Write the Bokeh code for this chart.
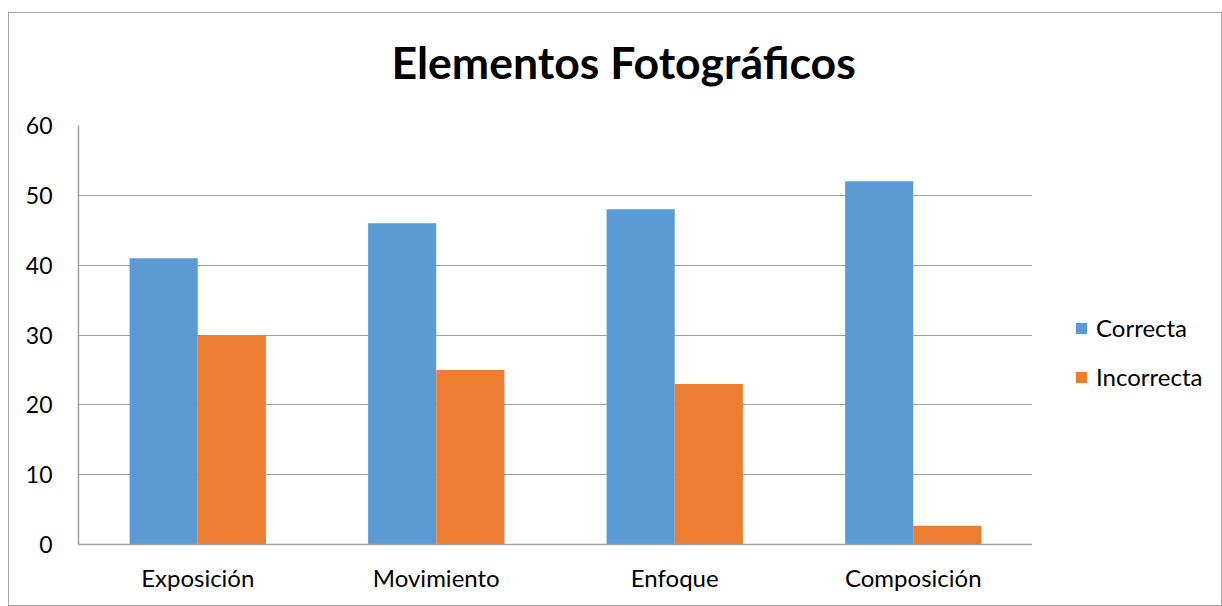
from bokeh.plotting import figure
from bokeh.layouts import row, column
from bokeh.models import ColumnDataSource, Range1d, FactorRange, FixedTicker, Legend, LegendItem, Label
from bokeh.transform import dodge
from bokeh.embed import file_html
from bokeh.resources import INLINE

title_text = "Elementos Fotográficos"
categories = ["Exposición", "Movimiento", "Enfoque", "Composición"]
correcta = [41, 46, 48, 52]
incorrecta = [30, 25, 23, 2.7]
series_names = ["Correcta", "Incorrecta"]
colors = ["#5B9BD5", "#ED7D31"]
y_ticks = [0, 10, 20, 30, 40, 50, 60]

source = ColumnDataSource(dict(cat=categories, correcta=correcta, incorrecta=incorrecta))

FONT = "Lato"
GRAY = "#a0a0a0"

# title strip
pt = figure(width=1023, height=90, x_range=Range1d(0, 1023), y_range=Range1d(0, 90), title=None,
            output_backend="svg", toolbar_location=None, x_axis_type=None, y_axis_type=None,
            min_border_left=0, min_border_right=0, min_border_top=0, min_border_bottom=0)
pt.outline_line_color = None
pt.grid.grid_line_color = None
pt.border_fill_color = "white"
pt.add_layout(Label(x=584.5, y=42, text=title_text, text_font=FONT, text_font_size="44.6px",
                    text_font_style="bold", text_color="#000000", text_align="center",
                    text_baseline="alphabetic"))

# main chart
p = figure(width=1023, height=502, x_range=FactorRange(*categories), y_range=Range1d(0, 60),
           output_backend="svg", toolbar_location=None,
           min_border_left=69, min_border_right=0, min_border_top=22, min_border_bottom=61)

w = 0.2857
r1 = p.vbar(x=dodge("cat", -w / 2, range=p.x_range), top="correcta", width=w, source=source,
            fill_color=colors[0], line_color=None)
r2 = p.vbar(x=dodge("cat", w / 2, range=p.x_range), top="incorrecta", width=w, source=source,
            fill_color=colors[1], line_color=None)

p.outline_line_color = None
p.background_fill_color = "white"
p.border_fill_color = "white"

p.xgrid.grid_line_color = None
p.ygrid.grid_line_color = GRAY
p.ygrid.ticker = FixedTicker(ticks=y_ticks)
p.yaxis.ticker = FixedTicker(ticks=y_ticks)

for ax in (p.xaxis[0], p.yaxis[0]):
    ax.axis_line_color = GRAY
    ax.axis_line_width = 1.5
    ax.major_tick_line_color = None
    ax.minor_tick_line_color = None
    ax.major_label_text_font = FONT
    ax.major_label_text_color = "#000000"
p.yaxis.major_label_text_font_size = "23px"
p.xaxis.major_label_text_font_size = "24px"
p.yaxis.major_label_standoff = 20
p.xaxis.major_label_standoff = 12

# legend panel (separate figure to the right of the plot area)
pl = figure(width=189, height=592, x_range=Range1d(0, 1), y_range=Range1d(0, 1), title=None,
            output_backend="svg", toolbar_location=None, x_axis_type=None, y_axis_type=None,
            min_border_left=0, min_border_right=0, min_border_top=0, min_border_bottom=0)
pl.outline_line_color = None
pl.grid.grid_line_color = None
pl.border_fill_color = "white"
# legend-only renderers: the data lie outside this panel's range, so only the legend swatches show
l1 = pl.vbar(x="correcta", top="correcta", width=0.1, source=source, fill_color=colors[0], line_color=None)
l2 = pl.vbar(x="incorrecta", top="incorrecta", width=0.1, source=source, fill_color=colors[1], line_color=None)

legend = Legend(items=[LegendItem(label=series_names[0], renderers=[l1]),
                       LegendItem(label=series_names[1], renderers=[l2])],
                location=(42, 214), orientation="vertical")
legend.border_line_color = None
legend.background_fill_alpha = 0
legend.padding = 0
legend.margin = 0
legend.glyph_width = 14
legend.glyph_height = 14
legend.label_height = 28
legend.spacing = 20
legend.label_standoff = 8
legend.label_text_font = FONT
legend.label_text_font_size = "24px"
legend.label_text_color = "#000000"
pl.add_layout(legend, "center")

layout = row(column(pt, p, spacing=0), pl, spacing=0)
layout.styles = {"border": "1px solid #a6a6a6", "margin-top": "12px", "margin-left": "8px",
                 "background-color": "white"}

open("out.html", "w").write(file_html(layout, INLINE))
